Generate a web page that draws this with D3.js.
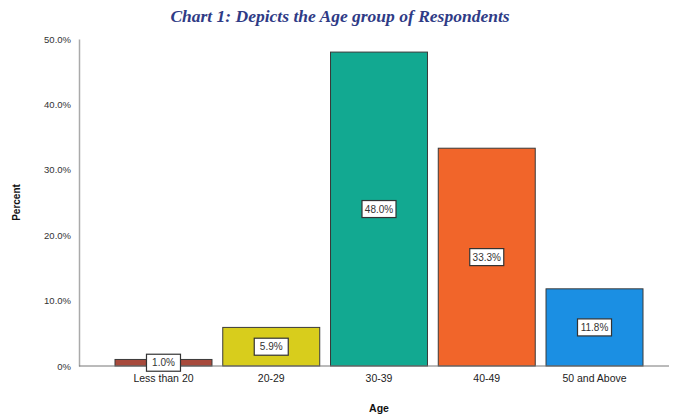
<!DOCTYPE html>
<html>
<head>
<meta charset="utf-8">
<script src="https://cdn.jsdelivr.net/npm/d3@7/dist/d3.min.js"></script>
<style>
  html, body { margin: 0; padding: 0; background: #fff; }
  svg { display: block; }
</style>
</head>
<body>
<svg id="chart" width="673" height="419"></svg>
<script>
// Age groups of respondents (percent)
const categories = ["Less than 20", "20-29", "30-39", "40-49", "50 and Above"];
const percents = [1.0, 5.9, 48.0, 33.3, 11.8];
const barColors = ["#a84a3c", "#d8cd1c", "#12a991", "#f1652a", "#1b8fe3"];
const yTicks = [0, 10, 20, 30, 40, 50];

const svg = d3.select("#chart");
const margin = { left: 79, right: 8, top: 39, bottom: 53 };
const W = 673, H = 419;

const x = d3.scaleBand()
  .domain(categories)
  .range([115, 643])
  .paddingInner(0.1)
  .paddingOuter(0);

const y = d3.scaleLinear()
  .domain([0, 50])
  .range([H - margin.bottom, margin.top]);

// title
svg.append("text")
  .attr("x", 340).attr("y", 22)
  .attr("text-anchor", "middle")
  .attr("font-family", "Liberation Serif, Times New Roman, serif")
  .attr("font-style", "italic").attr("font-weight", "bold")
  .attr("font-size", 17.5)
  .attr("fill", "#2f3b86")
  .text("Chart 1: Depicts the Age group of Respondents");

// y axis
const yAxis = d3.axisLeft(y)
  .tickValues(yTicks)
  .tickSize(0)
  .tickPadding(8)
  .tickFormat(d => d === 0 ? "0%" : d.toFixed(1) + "%");
const gy = svg.append("g")
  .attr("transform", `translate(${margin.left},0)`)
  .call(yAxis);
gy.select(".domain").attr("stroke", "#aaa").attr("stroke-width", 1.5);
gy.selectAll("text")
  .attr("font-family", "Liberation Sans, Arial, sans-serif")
  .attr("font-size", 9.5).attr("fill", "#333");

// bars
svg.append("g").selectAll("rect")
  .data(categories)
  .join("rect")
  .attr("x", d => x(d))
  .attr("width", x.bandwidth())
  .attr("y", (d, i) => y(percents[i]))
  .attr("height", (d, i) => y(0) - y(percents[i]))
  .attr("fill", (d, i) => barColors[i])
  .attr("stroke", "#3a3a3a")
  .attr("stroke-width", 1);

// x axis
const xAxis = d3.axisBottom(x).tickSize(0).tickPadding(9);
const gx = svg.append("g")
  .attr("transform", `translate(0,${y(0)})`)
  .call(xAxis);
gx.select(".domain")
  .attr("d", `M${margin.left},0H${W - 4}`)
  .attr("stroke", "#777").attr("stroke-width", 1);
gx.selectAll("text")
  .attr("font-family", "Liberation Sans, Arial, sans-serif")
  .attr("font-size", 10.5).attr("fill", "#222");

// value labels in boxes at bar midpoints
const labels = svg.append("g").selectAll("g")
  .data(categories)
  .join("g")
  .attr("transform", (d, i) =>
    `translate(${x(d) + x.bandwidth() / 2},${y(percents[i] / 2)})`);
labels.append("rect")
  .attr("x", -17).attr("y", -8.5)
  .attr("width", 34).attr("height", 17)
  .attr("fill", "#fff")
  .attr("stroke", "#333").attr("stroke-width", 1.2);
labels.append("text")
  .attr("text-anchor", "middle")
  .attr("dy", "0.35em")
  .attr("font-family", "Liberation Sans, Arial, sans-serif")
  .attr("font-size", 10).attr("fill", "#333")
  .text((d, i) => percents[i].toFixed(1) + "%");

// axis titles
svg.append("text")
  .attr("x", x("30-39") + x.bandwidth() / 2).attr("y", 412)
  .attr("text-anchor", "middle")
  .attr("font-family", "Liberation Sans, Arial, sans-serif")
  .attr("font-weight", "bold").attr("font-size", 10.5).attr("fill", "#111")
  .text("Age");
svg.append("text")
  .attr("transform", `translate(20,${(y(0) + y(50)) / 2}) rotate(-90)`)
  .attr("text-anchor", "middle")
  .attr("font-family", "Liberation Sans, Arial, sans-serif")
  .attr("font-weight", "bold").attr("font-size", 10).attr("fill", "#111")
  .text("Percent");
</script>
</body>
</html>
